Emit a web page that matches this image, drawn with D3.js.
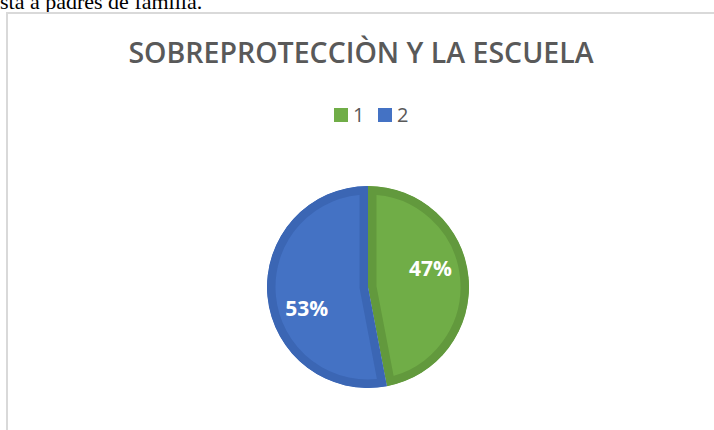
<!DOCTYPE html>
<html><head><meta charset="utf-8">
<script src="https://cdn.jsdelivr.net/npm/d3@7"></script>
<style>html,body{margin:0;padding:0;background:#fff;overflow:hidden}</style>
</head><body>
<svg id="c" width="714" height="430"></svg>
<script>
const title = "SOBREPROTECCIÒN Y LA ESCUELA";
const categories = ["1", "2"];
const values = [47, 53];
const labels = ["47%", "53%"];
const fills = ["#70ad47", "#4472c4"];
const strokes = ["#62993d", "#3b66b4"];

const svg = d3.select("#c");

// preceding document text (clipped)
svg.append("text").attr("x", 0).attr("y", 9)
  .style("font-family", "'Liberation Serif', 'Times New Roman', serif")
  .style("font-size", "22px").attr("fill", "#000")
  .text("sta a padres de familia.");

// chart frame
svg.append("rect").attr("x", 7).attr("y", 13).attr("width", 720).attr("height", 430)
  .attr("fill", "#fff").attr("stroke", "#d9d9d9").attr("stroke-width", 2);

// title
svg.append("text").attr("x", 361).attr("y", 63).attr("text-anchor", "middle")
  .style("font-family", "'Open Sans', sans-serif").style("font-weight", 600)
  .style("font-size", "28.5px").attr("fill", "#595959")
  .text(title);

// legend
const legend = svg.append("g");
const lx = d3.scaleOrdinal().domain(categories).range([334, 378]);
categories.forEach((c, i) => {
  legend.append("rect").attr("x", lx(c)).attr("y", 108).attr("width", 14).attr("height", 14).attr("fill", fills[i]);
  legend.append("text").attr("x", lx(c) + 19).attr("y", 122)
    .style("font-family", "'Open Sans', sans-serif").style("font-size", "20px")
    .attr("fill", "#595959").text(c);
});

// pie
const cx = 368, cy = 287, r = 101;
const pie = d3.pie().sort(null).value(d => d);
const arcs = pie(values);
const arc = d3.arc().innerRadius(0).outerRadius(r);
const g = svg.append("g").attr("transform", `translate(${cx},${cy})`);
const defs = svg.append("defs");
arcs.forEach((a, i) => {
  defs.append("clipPath").attr("id", "clip" + i).append("path").attr("d", arc(a));
  g.append("path").attr("d", arc(a)).attr("fill", fills[i])
    .attr("stroke", strokes[i]).attr("stroke-width", 17).attr("stroke-linejoin", "miter")
    .attr("clip-path", `url(#clip${i})`);
});
const labelArc = d3.arc().innerRadius(65).outerRadius(65);
const rots = [-11, -14];
arcs.forEach((a, i) => {
  const rot = rots[i] * Math.PI / 180;
  const p = labelArc.centroid({startAngle: a.startAngle + rot, endAngle: a.endAngle + rot});
  g.append("text").attr("x", p[0]).attr("y", p[1]).attr("dy", "0.36em").attr("text-anchor", "middle")
    .style("font-family", "'Open Sans', sans-serif").style("font-weight", 700)
    .style("font-size", "21px").attr("fill", "#fff").text(labels[i]);
});
</script>
</body></html>
